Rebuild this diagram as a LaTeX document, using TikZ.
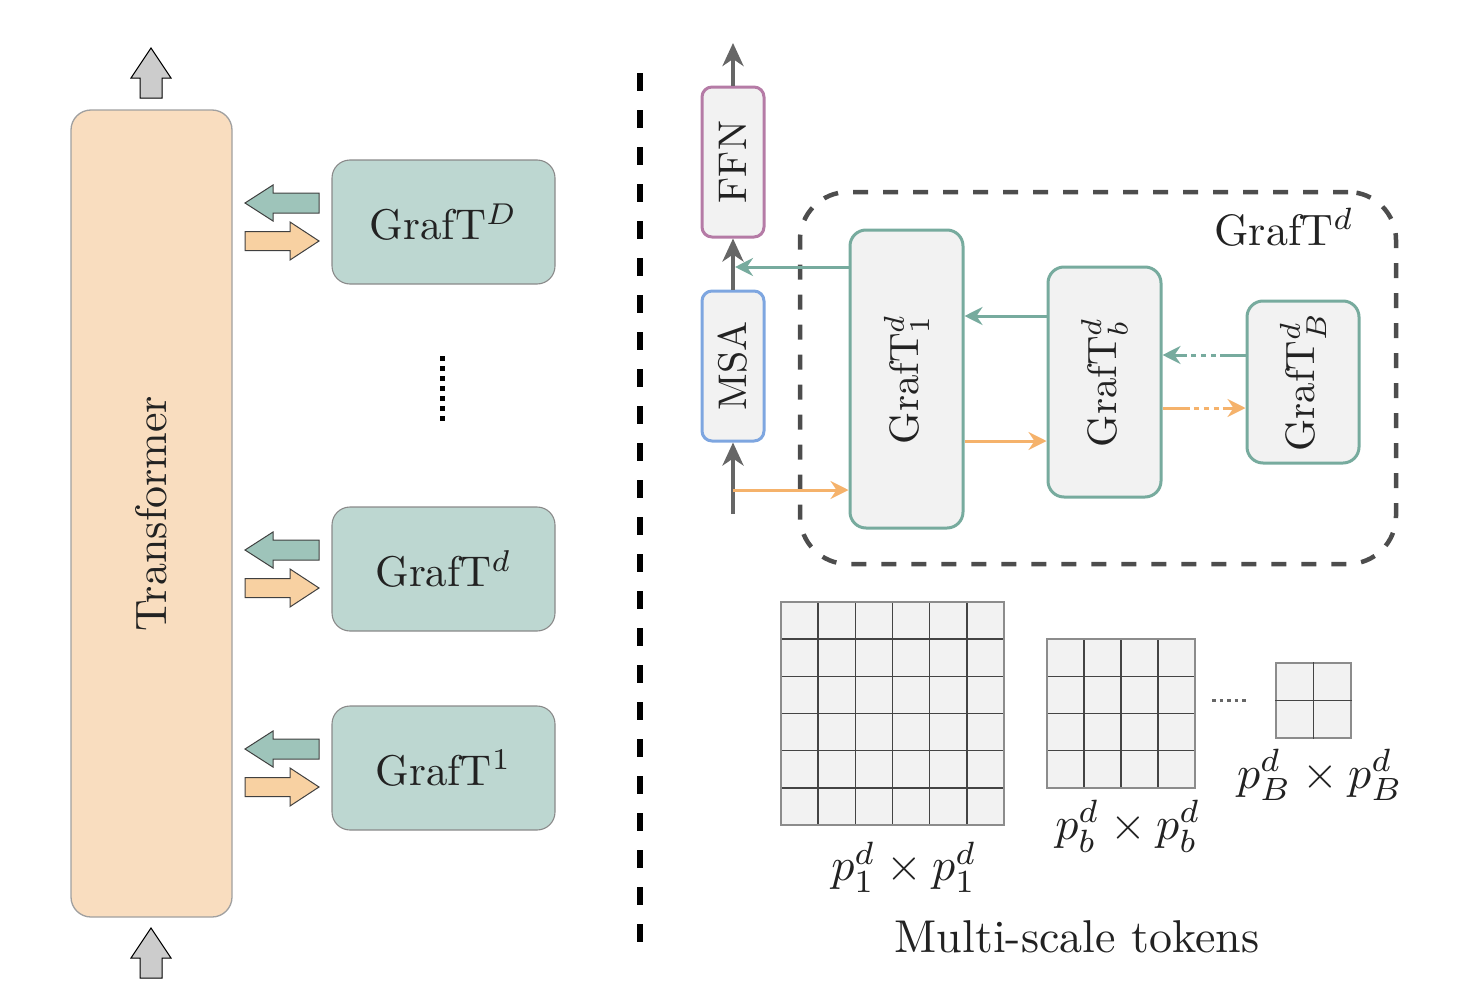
\documentclass[tikz,border=0pt]{standalone}
\usetikzlibrary{arrows.meta}
\definecolor{peach}{HTML}{F9DDBF}
\definecolor{peachdraw}{HTML}{A0A0A0}
\definecolor{mint}{HTML}{BDD7D1}
\definecolor{mintdraw}{HTML}{8A8A8A}
\definecolor{tealblkfill}{HTML}{9EC4BA}
\definecolor{orangeblkfill}{HTML}{F8D1A2}
\definecolor{boxfill}{HTML}{F2F2F2}
\definecolor{teal}{HTML}{77AB9E}
\definecolor{orangeln}{HTML}{F5B26B}
\definecolor{ffncol}{HTML}{B57BA6}
\definecolor{msacol}{HTML}{7EA6E0}
\definecolor{grayln}{HTML}{666666}
\definecolor{dashcol}{HTML}{4D4D4D}
\definecolor{txt}{HTML}{222222}
\definecolor{gridln}{HTML}{444444}
\definecolor{gridbd}{HTML}{8C8C8C}
\newcommand\myTealArrow[1]{\draw[tealblk] (245,#1) -- (273,{#1-18}) -- (273,{#1-10}) -- (319,{#1-10}) -- (319,{#1+10}) -- (273,{#1+10}) -- (273,{#1+18}) -- cycle;}
\newcommand\myOrangeArrow[1]{\draw[orangeblk] (245,{#1-9.5}) -- (290,{#1-9.5}) -- (290,{#1-19}) -- (319,#1) -- (290,{#1+19}) -- (290,{#1+9.5}) -- (245,{#1+9.5}) -- cycle;}
\begin{document}
\begin{tikzpicture}[x=1pt,y=-1pt,
  every node/.style={text=txt, inner sep=0pt},
  transbox/.style={draw=peachdraw, line width=1.3pt, fill=peach, rounded corners=20pt},
  leftbox/.style={draw=mintdraw, line width=1.1pt, fill=mint, rounded corners=18pt, minimum width=223pt, minimum height=124pt},
  tealblk/.style={draw=black!75, line width=1pt, fill=tealblkfill},
  orangeblk/.style={draw=black!75, line width=1pt, fill=orangeblkfill},
  grayblk/.style={draw=black, line width=1pt, fill=black!20},
  rbox/.style={draw=teal, line width=3pt, fill=boxfill, rounded corners=16pt},
  sbox/.style={line width=3pt, fill=boxfill, rounded corners=10pt, minimum width=62pt, minimum height=150pt},
  grayline/.style={draw=grayln, line width=4pt, -{Stealth[length=23pt,width=21pt,inset=7pt]}},
  tealline/.style={draw=teal, line width=3pt, -{Stealth[length=18pt,width=18pt,inset=6pt]}},
  orangeline/.style={draw=orangeln, line width=3pt, -{Stealth[length=18pt,width=18pt,inset=6pt]}},
  gridbox/.style={draw=gridbd, line width=2pt, fill=boxfill},
  gridline/.style={draw=gridln, line width=1.4pt},
  sz/.style={scale=#1/10}
]
\useasboundingbox (0,0) rectangle (1466,990);

% ---------- left part ----------
\node[transbox, minimum width=161pt, minimum height=807pt] (trans) at (151.5,513.5) {};
\node[rotate=90, sz=44] (translbl) at (trans.center) {Transformer};

\draw[grayblk] (151,48) -- (171,78) -- (162,78) -- (162,98) -- (140,98) -- (140,78) -- (131,78) -- cycle;
\draw[grayblk] (151,928) -- (171,958) -- (162,958) -- (162,978) -- (140,978) -- (140,958) -- (131,958) -- cycle;

\node[leftbox] (gD) at (443.5,222) {};
\node[sz=43] (gDl) at (gD.center) {GrafT$^D$};
\node[leftbox] (gd) at (443.5,569) {};
\node[sz=43] (gdl) at (gd.center) {GrafT$^d$};
\node[leftbox] (g1) at (443.5,768) {};
\node[sz=43] (g1l) at (g1.center) {GrafT$^1$};

\myTealArrow{203}
\myOrangeArrow{241}
\myTealArrow{550}
\myOrangeArrow{588}
\myTealArrow{749}
\myOrangeArrow{787}

\coordinate (vd1) at (442,356);
\coordinate (vd2) at (442,421);
\draw[line width=5pt, dash pattern=on 5pt off 5pt] (vd1) -- (vd2);

% separator
\coordinate (sep1) at (640,73);
\coordinate (sep2) at (640,946);
\draw[line width=6pt, dash pattern=on 18pt off 19pt] (sep1) -- (sep2);

% ---------- right part ----------
\node[draw=dashcol, line width=4.5pt, dash pattern=on 15pt off 15pt, rounded corners=48pt, minimum width=596pt, minimum height=372pt] (box) at (1098,378) {};
\node[sz=44] (boxlbl) at (1284,227) {GrafT$^d$};

\node[sbox, draw=ffncol] (ffn) at (733,162) {};
\node[rotate=90, sz=40] at (ffn.center) {FFN};
\node[sbox, draw=msacol] (msa) at (733,366) {};
\node[rotate=90, sz=40] at (msa.center) {MSA};

\node[rbox, minimum width=113pt, minimum height=298pt] (G1) at (906.5,379) {};
\node[rotate=90, sz=41] at (G1.center) {GrafT$_1^d$};
\node[rbox, minimum width=113pt, minimum height=230pt] (Gb) at (1104.5,382) {};
\node[rotate=90, sz=41] at (Gb.center) {GrafT$_b^d$};
\node[rbox, minimum width=112pt, minimum height=162pt] (GB) at (1303,382) {};
\node[rotate=90, sz=41] at (GB.center) {GrafT$_B^d$};

\coordinate (top) at (733,43);
\coordinate (bot) at (733,514);
\coordinate (j1) at (735,267);
\coordinate (j2) at (733,490);
\draw[grayline] (ffn.north) -- (top);
\draw[grayline] (msa.north) -- (ffn.south);
\draw[grayline] (bot) -- (msa.south);
\draw[tealline] (G1.west |- 0,267) -- (j1);
\draw[orangeline] (j2) -- (G1.west |- 0,490);
\draw[tealline] (Gb.west |- 0,316) -- (G1.east |- 0,316);
\draw[orangeline] (G1.east |- 0,441) -- (Gb.west |- 0,441);
\draw[tealline, dash pattern=on 26pt off 4pt on 5pt off 5pt on 5pt off 5pt on 5pt off 4pt on 60pt] (GB.west |- 0,355) -- (Gb.east |- 0,355);
\draw[orangeline, dash pattern=on 27pt off 4pt on 5pt off 5pt on 5pt off 5pt on 5pt off 4pt on 60pt] (Gb.east |- 0,408) -- (GB.west |- 0,408);

% ---------- grids ----------
\node[gridbox, minimum width=223pt, minimum height=223pt] (grid1) at (892.5,713.5) {};
\foreach \i in {1,...,5} {
  \draw[gridline] ({781+\i*37.17},603) -- ({781+\i*37.17},824);
  \draw[gridline] (782,{602+\i*37.17}) -- (1003,{602+\i*37.17});
}
\node[gridbox, minimum width=148pt, minimum height=149pt] (grid2) at (1121,713.5) {};
\foreach \i in {1,...,3} {
  \draw[gridline] ({1047+\i*37},640) -- ({1047+\i*37},787);
  \draw[gridline] (1048,{639+\i*37.25}) -- (1194,{639+\i*37.25});
}
\node[gridbox, minimum width=75pt, minimum height=75pt] (grid3) at (1313.5,700.5) {};
\draw[gridline] (grid3.north) -- (grid3.south);
\draw[gridline] (grid3.west) -- (grid3.east);

\coordinate (hd1) at (1212,700);
\coordinate (hd2) at (1248,700);
\draw[draw=grayln, line width=3pt, dash pattern=on 3.5pt off 4pt] (hd1) -- (hd2);

\node[sz=46] (l1) at (904,867) {$p_1^d\times p_1^d$};
\node[sz=46] (lb) at (1128,826) {$p_b^d\times p_b^d$};
\node[sz=46] (lB) at (1320,775) {$p_B^d\times p_B^d$};
\node[sz=46] (ms) at (1077,937) {Multi-scale tokens};
\end{tikzpicture}
\end{document}
